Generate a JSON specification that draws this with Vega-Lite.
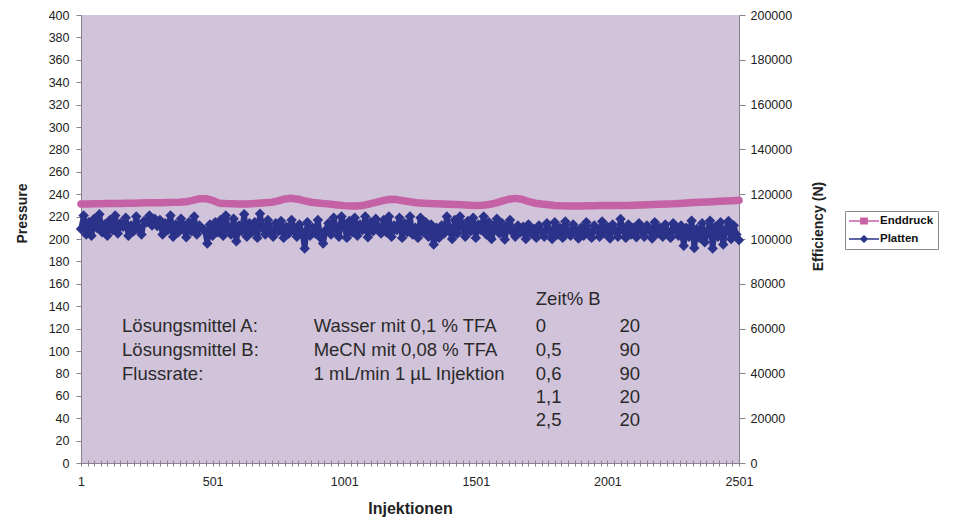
{
  "$schema": "https://vega.github.io/schema/vega-lite/v6.json",
  "width": 658,
  "height": 448,
  "autosize": {"type": "none"},
  "padding": {"left": 81, "top": 15, "right": 216, "bottom": 57},
  "background": "white",
  "view": {"fill": "#d1c4da", "stroke": null},
  "config": {
    "view": {"fill": "#d1c4da", "stroke": null},
    "axis": {"grid": false, "domainColor": "#8a8090", "tickColor": "#8a8090", "labelColor": "#222222", "titleColor": "#222222", "labelFont": "Liberation Sans, Arial, sans-serif", "titleFont": "Liberation Sans, Arial, sans-serif", "labelFontSize": 12.5, "tickCount": 500, "labelOverlap": false},
    "legend": {"title": null, "orient": "none", "legendX": 764, "legendY": 196, "symbolSize": 144, "labelOffset": 19, "padding": 4, "rowPadding": 6, "strokeColor": "#8a8a8a", "fillColor": "white", "labelFontSize": 11.5, "labelFontWeight": "bold", "labelFont": "Liberation Sans, Arial, sans-serif", "labelColor": "#111111", "symbolOpacity": 1, "symbolStrokeWidth": 0}
  },
  "datasets": {
    "enddruck": [
      {"inj":1,"value":231.2},{"inj":26,"value":231.3},{"inj":51,"value":231.4},{"inj":76,"value":231.5},{"inj":101,"value":231.6},{"inj":126,"value":231.7},{"inj":151,"value":231.8},{"inj":176,"value":231.9},{"inj":201,"value":232.0},{"inj":226,"value":232.1},{"inj":251,"value":232.3},{"inj":276,"value":232.3},{"inj":301,"value":232.4},{"inj":326,"value":232.5},{"inj":351,"value":232.7},{"inj":376,"value":232.9},{"inj":401,"value":233.3},{"inj":426,"value":234.5},{"inj":451,"value":236.0},{"inj":476,"value":236.0},{"inj":501,"value":234.5},{"inj":526,"value":232.0},{"inj":551,"value":231.6},{"inj":576,"value":231.4},{"inj":601,"value":231.3},{"inj":626,"value":231.2},{"inj":651,"value":231.5},{"inj":676,"value":231.9},{"inj":701,"value":232.3},{"inj":726,"value":232.8},{"inj":751,"value":234.0},{"inj":776,"value":235.8},{"inj":801,"value":236.3},{"inj":826,"value":235.5},{"inj":851,"value":234.0},{"inj":876,"value":232.8},{"inj":901,"value":232.2},{"inj":926,"value":231.6},{"inj":951,"value":231.0},{"inj":976,"value":230.4},{"inj":1001,"value":229.8},{"inj":1026,"value":229.4},{"inj":1051,"value":229.5},{"inj":1076,"value":230.2},{"inj":1101,"value":231.5},{"inj":1126,"value":233.0},{"inj":1151,"value":234.5},{"inj":1176,"value":235.5},{"inj":1201,"value":235.2},{"inj":1226,"value":234.2},{"inj":1251,"value":233.2},{"inj":1276,"value":232.4},{"inj":1301,"value":232.0},{"inj":1326,"value":231.7},{"inj":1351,"value":231.4},{"inj":1376,"value":231.2},{"inj":1401,"value":231.1},{"inj":1426,"value":230.8},{"inj":1451,"value":230.5},{"inj":1476,"value":230.2},{"inj":1501,"value":230.0},{"inj":1526,"value":230.2},{"inj":1551,"value":230.8},{"inj":1576,"value":232.0},{"inj":1601,"value":233.8},{"inj":1626,"value":235.5},{"inj":1651,"value":236.3},{"inj":1676,"value":235.5},{"inj":1701,"value":233.5},{"inj":1726,"value":232.0},{"inj":1751,"value":231.2},{"inj":1776,"value":230.6},{"inj":1801,"value":230.0},{"inj":1826,"value":229.6},{"inj":1851,"value":229.4},{"inj":1876,"value":229.4},{"inj":1901,"value":229.5},{"inj":1926,"value":229.6},{"inj":1951,"value":229.7},{"inj":1976,"value":229.8},{"inj":2001,"value":229.9},{"inj":2026,"value":230.0},{"inj":2051,"value":230.0},{"inj":2076,"value":230.0},{"inj":2101,"value":230.2},{"inj":2126,"value":230.4},{"inj":2151,"value":230.6},{"inj":2176,"value":230.8},{"inj":2201,"value":231.0},{"inj":2226,"value":231.2},{"inj":2251,"value":231.4},{"inj":2276,"value":231.8},{"inj":2301,"value":232.2},{"inj":2326,"value":232.6},{"inj":2351,"value":232.8},{"inj":2376,"value":233.0},{"inj":2401,"value":233.3},{"inj":2426,"value":233.6},{"inj":2451,"value":233.9},{"inj":2476,"value":234.2},{"inj":2501,"value":234.5}
    ],
    "platten": [
      {"inj":1,"value":104500},{"inj":11,"value":110500},{"inj":21,"value":102000},{"inj":31,"value":107500},{"inj":41,"value":101500},{"inj":51,"value":109000},{"inj":61,"value":105000},{"inj":71,"value":111000},{"inj":81,"value":103000},{"inj":91,"value":106500},
      {"inj":101,"value":101500},{"inj":111,"value":108500},{"inj":121,"value":104000},{"inj":131,"value":110500},{"inj":141,"value":102500},{"inj":151,"value":107000},{"inj":161,"value":105500},{"inj":171,"value":109500},{"inj":181,"value":101500},{"inj":191,"value":106000},
      {"inj":201,"value":103500},{"inj":211,"value":110000},{"inj":221,"value":104500},{"inj":231,"value":102000},{"inj":241,"value":108000},{"inj":251,"value":107500},{"inj":261,"value":110500},{"inj":271,"value":106000},{"inj":281,"value":109000},{"inj":291,"value":105800},
      {"inj":301,"value":108500},{"inj":311,"value":102000},{"inj":321,"value":107000},{"inj":331,"value":104000},{"inj":341,"value":110500},{"inj":351,"value":101000},{"inj":361,"value":106500},{"inj":371,"value":103000},{"inj":381,"value":109000},{"inj":391,"value":105000},
      {"inj":401,"value":100800},{"inj":411,"value":107500},{"inj":421,"value":103500},{"inj":431,"value":110000},{"inj":441,"value":102000},{"inj":451,"value":106000},{"inj":461,"value":104500},{"inj":471,"value":104000},{"inj":481,"value":98000},{"inj":491,"value":106500},
      {"inj":501,"value":101500},{"inj":511,"value":107500},{"inj":521,"value":103000},{"inj":531,"value":108500},{"inj":541,"value":101500},{"inj":551,"value":110500},{"inj":561,"value":104000},{"inj":571,"value":102000},{"inj":581,"value":109000},{"inj":591,"value":99000},
      {"inj":601,"value":106000},{"inj":611,"value":103500},{"inj":621,"value":111000},{"inj":631,"value":101000},{"inj":641,"value":107000},{"inj":651,"value":103000},{"inj":661,"value":107500},{"inj":671,"value":100500},{"inj":681,"value":111300},{"inj":691,"value":105000},
      {"inj":701,"value":102000},{"inj":711,"value":108500},{"inj":721,"value":104000},{"inj":731,"value":101000},{"inj":741,"value":107000},{"inj":751,"value":103500},{"inj":761,"value":108000},{"inj":771,"value":100500},{"inj":781,"value":105500},{"inj":791,"value":102500},
      {"inj":801,"value":108500},{"inj":811,"value":104500},{"inj":821,"value":101000},{"inj":831,"value":106500},{"inj":841,"value":103000},{"inj":851,"value":95800},{"inj":861,"value":107500},{"inj":871,"value":101500},{"inj":881,"value":105000},{"inj":891,"value":102500},
      {"inj":901,"value":108500},{"inj":911,"value":100500},{"inj":921,"value":98000},{"inj":931,"value":104000},{"inj":941,"value":107000},{"inj":951,"value":102000},{"inj":961,"value":109500},{"inj":971,"value":104500},{"inj":981,"value":101000},{"inj":991,"value":110000},
      {"inj":1001,"value":106000},{"inj":1011,"value":100500},{"inj":1021,"value":108000},{"inj":1031,"value":103000},{"inj":1041,"value":109500},{"inj":1051,"value":101500},{"inj":1061,"value":106500},{"inj":1071,"value":104000},{"inj":1081,"value":110000},{"inj":1091,"value":100800},
      {"inj":1101,"value":107500},{"inj":1111,"value":103500},{"inj":1121,"value":109000},{"inj":1131,"value":105000},{"inj":1141,"value":102500},{"inj":1151,"value":108500},{"inj":1161,"value":103000},{"inj":1171,"value":110000},{"inj":1181,"value":101000},{"inj":1191,"value":106000},
      {"inj":1201,"value":104000},{"inj":1211,"value":109500},{"inj":1221,"value":100500},{"inj":1231,"value":107000},{"inj":1241,"value":103000},{"inj":1251,"value":110000},{"inj":1261,"value":102000},{"inj":1271,"value":105000},{"inj":1281,"value":100500},{"inj":1291,"value":109500},
      {"inj":1301,"value":103000},{"inj":1311,"value":107500},{"inj":1321,"value":101000},{"inj":1331,"value":106500},{"inj":1341,"value":97500},{"inj":1351,"value":105000},{"inj":1361,"value":100500},{"inj":1371,"value":106000},{"inj":1381,"value":102500},{"inj":1391,"value":110000},
      {"inj":1401,"value":104000},{"inj":1411,"value":100000},{"inj":1421,"value":108500},{"inj":1431,"value":102500},{"inj":1441,"value":110000},{"inj":1451,"value":105500},{"inj":1461,"value":101000},{"inj":1471,"value":108000},{"inj":1481,"value":103500},{"inj":1491,"value":109500},
      {"inj":1501,"value":100500},{"inj":1511,"value":106500},{"inj":1521,"value":104000},{"inj":1531,"value":110000},{"inj":1541,"value":102000},{"inj":1551,"value":107500},{"inj":1561,"value":100000},{"inj":1571,"value":105000},{"inj":1581,"value":109000},{"inj":1591,"value":102500},
      {"inj":1601,"value":107000},{"inj":1611,"value":99800},{"inj":1621,"value":105500},{"inj":1631,"value":108500},{"inj":1641,"value":103000},{"inj":1651,"value":101000},{"inj":1661,"value":106000},{"inj":1671,"value":103000},{"inj":1681,"value":105500},{"inj":1691,"value":100000},
      {"inj":1701,"value":106500},{"inj":1711,"value":102500},{"inj":1721,"value":104500},{"inj":1731,"value":100500},{"inj":1741,"value":106000},{"inj":1751,"value":103500},{"inj":1761,"value":101000},{"inj":1771,"value":107000},{"inj":1781,"value":104000},{"inj":1791,"value":100000},
      {"inj":1801,"value":107500},{"inj":1811,"value":102000},{"inj":1821,"value":105000},{"inj":1831,"value":100500},{"inj":1841,"value":107800},{"inj":1851,"value":103000},{"inj":1861,"value":101500},{"inj":1871,"value":106500},{"inj":1881,"value":104000},{"inj":1891,"value":100200},
      {"inj":1901,"value":105000},{"inj":1911,"value":101500},{"inj":1921,"value":107500},{"inj":1931,"value":103000},{"inj":1941,"value":100500},{"inj":1951,"value":106000},{"inj":1961,"value":104000},{"inj":1971,"value":101000},{"inj":1981,"value":107800},{"inj":1991,"value":102500},
      {"inj":2001,"value":105500},{"inj":2011,"value":100200},{"inj":2021,"value":106500},{"inj":2031,"value":103500},{"inj":2041,"value":101000},{"inj":2051,"value":108900},{"inj":2061,"value":104000},{"inj":2071,"value":100500},{"inj":2081,"value":106500},{"inj":2091,"value":102000},
      {"inj":2101,"value":105000},{"inj":2111,"value":100800},{"inj":2121,"value":107000},{"inj":2131,"value":103500},{"inj":2141,"value":101000},{"inj":2151,"value":106000},{"inj":2161,"value":104500},{"inj":2171,"value":100200},{"inj":2181,"value":107500},{"inj":2191,"value":102500},
      {"inj":2201,"value":105000},{"inj":2211,"value":101000},{"inj":2221,"value":106500},{"inj":2231,"value":103000},{"inj":2241,"value":100500},{"inj":2251,"value":107000},{"inj":2261,"value":104000},{"inj":2271,"value":101500},{"inj":2281,"value":106000},{"inj":2291,"value":97000},
      {"inj":2301,"value":105000},{"inj":2311,"value":101000},{"inj":2321,"value":108200},{"inj":2331,"value":96000},{"inj":2341,"value":104500},{"inj":2351,"value":100500},{"inj":2361,"value":107000},{"inj":2371,"value":98500},{"inj":2381,"value":103000},{"inj":2391,"value":108200},
      {"inj":2401,"value":95800},{"inj":2411,"value":105500},{"inj":2421,"value":101000},{"inj":2431,"value":107500},{"inj":2441,"value":97500},{"inj":2451,"value":104000},{"inj":2461,"value":108000},{"inj":2471,"value":100000},{"inj":2481,"value":106000},{"inj":2491,"value":102000},
      {"inj":2501,"value":99500}
    ],
    "notes": [
      {"inj":1729,"p":146.4,"label":"Zeit% B"},
      {"inj":157,"p":122.3,"label":"Lösungsmittel A:"},
      {"inj":885,"p":122.3,"label":"Wasser mit 0,1 % TFA"},
      {"inj":1729,"p":122.3,"label":"0"},
      {"inj":2047,"p":122.3,"label":"20"},
      {"inj":157,"p":100.9,"label":"Lösungsmittel B:"},
      {"inj":885,"p":100.9,"label":"MeCN mit 0,08 % TFA"},
      {"inj":1729,"p":100.9,"label":"0,5"},
      {"inj":2047,"p":100.9,"label":"90"},
      {"inj":157,"p":79.5,"label":"Flussrate:"},
      {"inj":885,"p":79.5,"label":"1 mL/min 1 µL Injektion"},
      {"inj":1729,"p":79.5,"label":"0,6"},
      {"inj":2047,"p":79.5,"label":"90"},
      {"inj":1729,"p":58.9,"label":"1,1"},
      {"inj":2047,"p":58.9,"label":"20"},
      {"inj":1729,"p":38.4,"label":"2,5"},
      {"inj":2047,"p":38.4,"label":"20"}
    ],
    "legend": [
      {"series": "Enddruck"},
      {"series": "Platten"}
    ]
  },
  "layer": [
    {
      "layer": [
        {
          "data": {"name": "enddruck"},
          "mark": {"type": "line", "color": "#c462a5", "strokeWidth": 7.5, "strokeCap": "round", "strokeJoin": "round"},
          "encoding": {
            "x": {"field": "inj", "type": "quantitative", "title": "Injektionen",
              "scale": {"domain": [1, 2501], "nice": false, "zero": false},
              "axis": {"orient": "bottom", "tickCount": 500, "values": [1,26,51,76,101,126,151,176,201,226,251,276,301,326,351,376,401,426,451,476,501,526,551,576,601,626,651,676,701,726,751,776,801,826,851,876,901,926,951,976,1001,1026,1051,1076,1101,1126,1151,1176,1201,1226,1251,1276,1301,1326,1351,1376,1401,1426,1451,1476,1501,1526,1551,1576,1601,1626,1651,1676,1701,1726,1751,1776,1801,1826,1851,1876,1901,1926,1951,1976,2001,2026,2051,2076,2101,2126,2151,2176,2201,2226,2251,2276,2301,2326,2351,2376,2401,2426,2451,2476,2501],
                "labelExpr": "(datum.value - 1) % 500 === 0 ? format(datum.value, 'd') : ''",
                "labelFlush": false, "labelOverlap": false, "labelBound": false,
                "tickSize": 3, "labelPadding": 9, "titleFontSize": 16, "titleFontWeight": "bold", "titlePadding": 13}},
            "y": {"field": "value", "type": "quantitative", "title": "Pressure",
              "scale": {"domain": [0, 400], "nice": false, "zero": true},
              "axis": {"orient": "left", "tickCount": 500, "labelOverlap": false, "values": [0,20,40,60,80,100,120,140,160,180,200,220,240,260,280,300,320,340,360,380,400], "format": "d",
                "tickSize": 5, "labelPadding": 7, "titleFontSize": 14, "titleFontWeight": "bold", "titlePadding": 19, "titleY": 198}}
          }
        },
        {
          "data": {"name": "notes"},
          "mark": {"type": "text", "align": "left", "baseline": "middle", "fontSize": 18.5, "font": "Liberation Sans, Arial, sans-serif", "color": "#2a2a2a"},
          "encoding": {
            "x": {"field": "inj", "type": "quantitative", "title": "Injektionen", "scale": {"domain": [1, 2501], "nice": false, "zero": false}},
            "y": {"field": "p", "type": "quantitative", "title": "Pressure", "scale": {"domain": [0, 400], "nice": false, "zero": true}},
            "text": {"field": "label"}
          }
        }
      ]
    },
    {
      "data": {"name": "platten"},
      "mark": {"type": "line", "color": "#2b3289", "strokeWidth": 5.5, "strokeJoin": "round", "strokeCap": "round", "point": {"shape": "diamond", "size": 110, "filled": true, "color": "#2b3289"}},
      "encoding": {
        "x": {"field": "inj", "type": "quantitative",
          "scale": {"domain": [1, 2501], "nice": false, "zero": false},
          "axis": {"orient": "bottom", "offset": -3, "tickSize": 3, "tickCount": 500, "labels": false, "domain": false, "title": null, "grid": false,
            "values": [1,26,51,76,101,126,151,176,201,226,251,276,301,326,351,376,401,426,451,476,501,526,551,576,601,626,651,676,701,726,751,776,801,826,851,876,901,926,951,976,1001,1026,1051,1076,1101,1126,1151,1176,1201,1226,1251,1276,1301,1326,1351,1376,1401,1426,1451,1476,1501,1526,1551,1576,1601,1626,1651,1676,1701,1726,1751,1776,1801,1826,1851,1876,1901,1926,1951,1976,2001,2026,2051,2076,2101,2126,2151,2176,2201,2226,2251,2276,2301,2326,2351,2376,2401,2426,2451,2476,2501]}},
        "y": {"field": "value", "type": "quantitative", "title": "Efficiency (N)",
          "scale": {"domain": [0, 200000], "nice": false, "zero": true},
          "axis": {"orient": "right", "tickCount": 500, "labelOverlap": false, "values": [0,20000,40000,60000,80000,100000,120000,140000,160000,180000,200000], "format": "d",
            "tickSize": 6, "labelPadding": 5, "titleFontSize": 14, "titleFontWeight": "bold", "titleAngle": 270, "titlePadding": 34, "titleY": 211}}
      }
    },
    {
      "data": {"name": "legend"},
      "mark": {"type": "point", "filled": true, "opacity": 0},
      "encoding": {
        "color": {"field": "series", "type": "nominal",
          "scale": {"domain": ["Enddruck", "Platten"], "range": ["#c462a5", "#2b3289"]},
          "legend": {"labelExpr": "datum.label + '\u00a0\u00a0\u00a0\u00a0\u00a0'"}},
        "shape": {"field": "series", "type": "nominal",
          "scale": {"domain": ["Enddruck", "Platten"], "range": ["M-1,-0.13H4V0.13H-1Z M0.85,-0.6H2.15V0.6H0.85Z", "M-1,-0.13H4V0.13H-1Z M1.5,-0.68L2.2,0L1.5,0.68L0.8,0Z"]},
          "legend": {"labelExpr": "datum.label + '\u00a0\u00a0\u00a0\u00a0\u00a0'"}}
      }
    }
  ],
  "resolve": {"scale": {"y": "independent"}, "axis": {"x": "independent"}}
}
